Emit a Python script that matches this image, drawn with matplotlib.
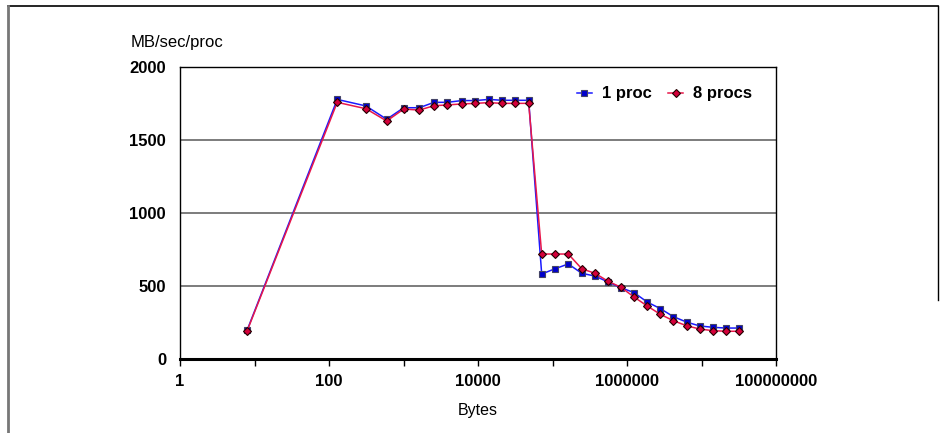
import matplotlib
matplotlib.use('Agg')
import matplotlib.pyplot as plt
from matplotlib.lines import Line2D

plt.rcParams['font.family'] = ['Liberation Sans', 'DejaVu Sans']

# message sizes in bytes
sizes = [8, 129, 314, 595, 1006, 1630, 2570, 3870, 6040, 9200, 13900, 21000,
         31700, 47900, 71600, 108000, 163000, 247000, 372000, 551000, 830000,
         1240000, 1870000, 2800000, 4200000, 6300000, 9500000, 14300000,
         21300000, 31800000]

one_proc = [200, 1778, 1733, 1642, 1721, 1721, 1758, 1758, 1770, 1770, 1778,
            1772, 1772, 1772, 582, 618, 651, 587, 568, 529, 488, 455, 390,
            345, 290, 253, 226, 217, 212, 212]

eight_procs = [195, 1758, 1714, 1630, 1712, 1705, 1735, 1740, 1747, 1751, 1756,
               1751, 1751, 1751, 719, 719, 719, 618, 587, 534, 491, 425, 363,
               306, 262, 228, 205, 194, 190, 190]

x_ticks = [1, 10, 100, 1000, 10000, 100000, 1000000, 10000000, 100000000]
x_labels = ['1', '', '100', '', '10000', '', '1000000', '', '100000000']
y_ticks = [0, 500, 1000, 1500, 2000]

fig = plt.figure(figsize=(9.46, 4.33), dpi=100)
ax = fig.add_axes([180 / 946, 74 / 433, 596 / 946, 292 / 433])

ax.plot(sizes, one_proc, color='#1a1aff', lw=1.1, marker='s', markersize=5,
        markerfacecolor='#0000cc', markeredgecolor='#444466', markeredgewidth=0.8,
        label='1 proc', zorder=3)
ax.plot(sizes, eight_procs, color='#e8174a', lw=1.1, marker='D', markersize=4,
        markerfacecolor='#d4003a', markeredgecolor='#220000', markeredgewidth=0.8,
        label='8 procs', zorder=4)

ax.set_xscale('log')
ax.set_xlim(1, 1e8)
ax.set_ylim(0, 2000)
ax.set_xticks(x_ticks)
ax.set_xticklabels(x_labels)
ax.minorticks_off()
ax.set_yticks(y_ticks)
ax.set_yticklabels([str(v) for v in y_ticks])

for v in y_ticks[1:-1]:
    ax.axhline(v, color='#666666', lw=1.2, zorder=1)

for lab in ax.get_xticklabels() + ax.get_yticklabels():
    lab.set_fontweight('bold')
    lab.set_fontsize(12)
ax.tick_params(axis='x', direction='out', length=5, width=1, pad=6, colors='black')
ax.tick_params(axis='y', length=0, pad=10)

for s in ['left', 'top', 'right']:
    ax.spines[s].set_color('black')
    ax.spines[s].set_linewidth(1.0)
ax.spines['bottom'].set_linewidth(2.2)

ax.set_xlabel('Bytes', fontsize=11.5, labelpad=10)
fig.text(131 / 946, 1 - 43 / 433, 'MB/sec/proc', fontsize=12, va='center', ha='left')

leg = ax.legend(loc='upper right', bbox_to_anchor=(0.985, 0.985), ncol=2, frameon=False,
                prop={'weight': 'bold', 'size': 12}, handlelength=0.9,
                columnspacing=1.0, handletextpad=0.6)

# page frame lines
fig.add_artist(Line2D([8 / 946, 938 / 946], [1 - 6 / 433, 1 - 6 / 433],
                      color='black', lw=1.2, transform=fig.transFigure))
fig.add_artist(Line2D([8 / 946, 8 / 946], [0, 1 - 6 / 433],
                      color='#777777', lw=2, transform=fig.transFigure))
fig.add_artist(Line2D([938 / 946, 938 / 946], [1 - 300 / 433, 1 - 6 / 433],
                      color='black', lw=1, transform=fig.transFigure))

fig.savefig('out.png', dpi=100)
